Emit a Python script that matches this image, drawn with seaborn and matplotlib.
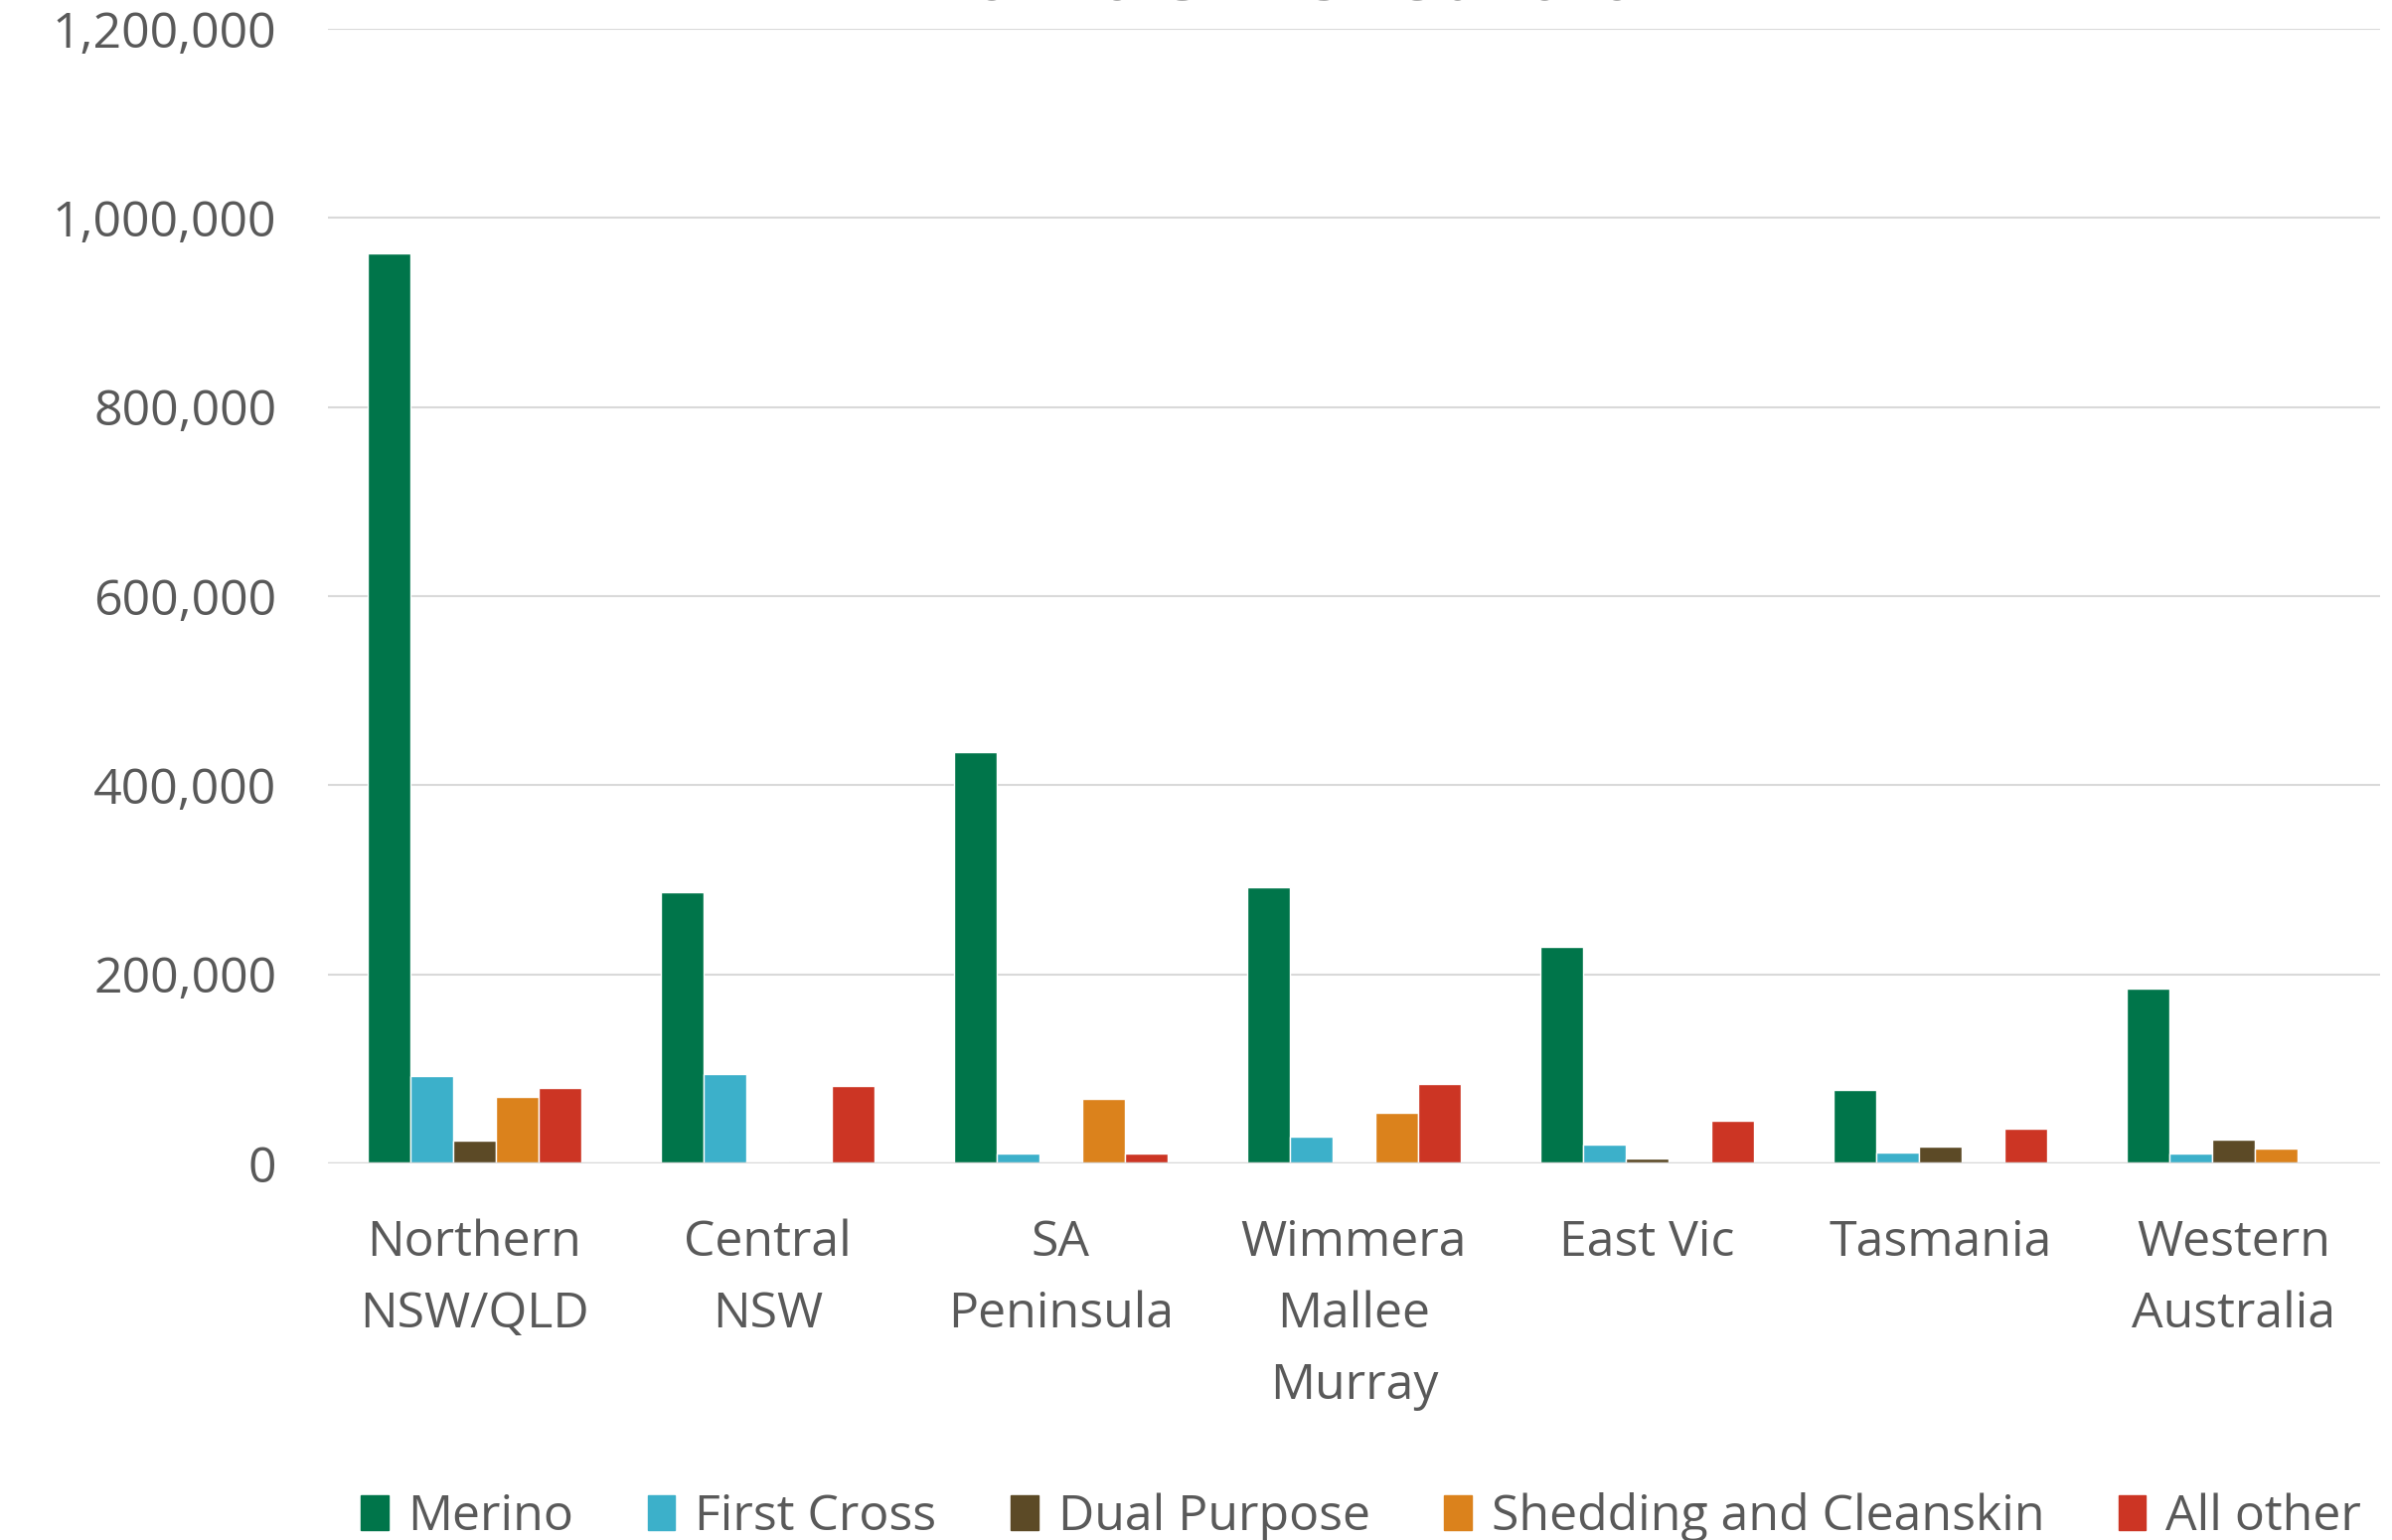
import pandas as pd
import seaborn as sns
import matplotlib.pyplot as plt
from matplotlib.ticker import FuncFormatter

regions = ["Northern\nNSW/QLD", "Central\nNSW", "SA\nPeninsula", "Wimmera\nMallee\nMurray",
           "East Vic", "Tasmania", "Western\nAustralia"]
types = ["Merino", "First Cross", "Dual Purpose", "Shedding and Cleanskin", "All other"]

merino = [963000, 287000, 435000, 291800, 228800, 77300, 185300]
first_cross = [92500, 94500, 10800, 28400, 20000, 11900, 10500]
dual_purpose = [24600, 2500, 0, 0, 5300, 17500, 25200]
shedding = [70800, 1500, 68300, 53600, 1000, 0, 15800]
all_other = [79500, 82400, 10800, 84100, 45500, 36800, 2000]

colors = ["#00754A", "#3CB0CA", "#5C4A26", "#DB821C", "#CC3524"]
text_col = "#595959"

rows = []
for t, vals in zip(types, [merino, first_cross, dual_purpose, shedding, all_other]):
    for r, v in zip(regions, vals):
        rows.append({"Region": r, "Type": t, "Head": v})
df = pd.DataFrame(rows)

sns.set_style("white")
plt.rcParams["font.family"] = ["Open Sans", "DejaVu Sans"]

fig = plt.figure(figsize=(24.07, 15.50), dpi=100)
ax = fig.add_axes([0.137, 0.2445, 0.858, 0.7368])

sns.barplot(data=df, x="Region", y="Head", hue="Type", order=regions, hue_order=types,
            palette=colors, width=0.73, saturation=1, errorbar=None, ax=ax, zorder=3)

ax.set_ylim(0, 1200000)
ax.set_xlim(-0.5, 6.5)
ax.set_yticks(range(0, 1200001, 200000))
ax.yaxis.set_major_formatter(FuncFormatter(lambda v, p: f"{int(v):,}"))
ax.grid(axis="y", color="#D9D9D9", linewidth=1.5, zorder=0)
ax.set_axisbelow(True)
sns.despine(ax=ax, left=True, top=True, right=True, bottom=True)
ax.axhline(0, color="#D9D9D9", linewidth=2.5, zorder=4)
ax.set_xlabel("")
ax.set_ylabel("")
ax.tick_params(axis="y", length=0, pad=37, labelsize=36, labelcolor=text_col)
ax.tick_params(axis="x", length=0, pad=40, labelsize=36, labelcolor=text_col)
for lbl in ax.get_xticklabels():
    lbl.set_linespacing(1.6)

ax.get_legend().remove()
handles = [plt.Rectangle((0, 0), 1, 1, color=c) for c in colors]
fig.legend(handles, types, loc="center", bbox_to_anchor=(0.569, 1 - 1527 / 1550), ncol=5,
           frameon=False, fontsize=36, labelcolor=text_col, handlelength=0.55, handleheight=0.7,
           handletextpad=0.4, columnspacing=1.49)

# title sits mostly above the canvas, as in the reference
fig.text(0.523, 1.0, "1 Nov 2019 \u2013 15 Feb 2020", ha="center", va="baseline",
         fontsize=46, fontweight="bold", color=text_col)

fig.savefig("out.png", dpi=100)
